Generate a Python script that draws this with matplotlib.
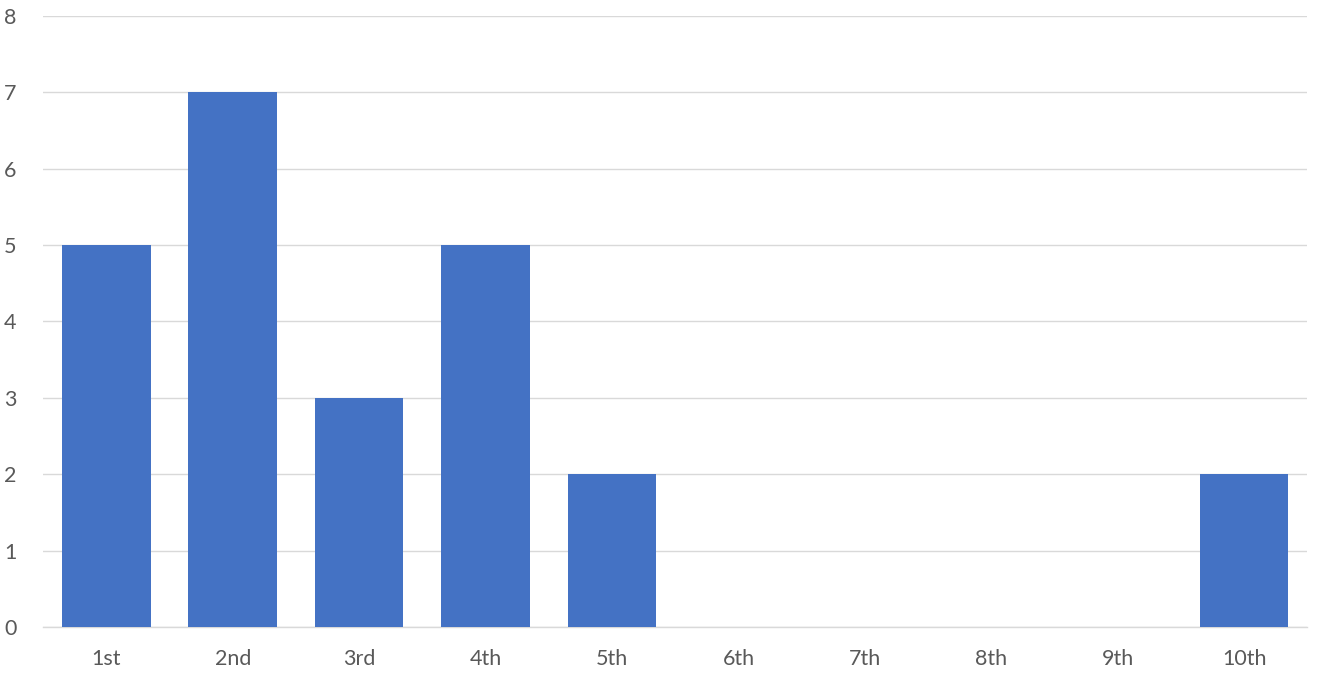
import matplotlib.pyplot as plt

places = ['1st', '2nd', '3rd', '4th', '5th', '6th', '7th', '8th', '9th', '10th']
counts = [5, 7, 3, 5, 2, 0, 0, 0, 0, 2]

plt.rcParams['font.family'] = ['Lato', 'DejaVu Sans']

fig = plt.figure(figsize=(13.24, 6.8), dpi=100)
ax = fig.add_axes([0.0325, 0.078, 0.955, 0.8985])

x = range(len(places))
ax.bar(x, counts, width=0.70, color='#4472C4', zorder=3)

ax.set_xlim(-0.5, len(places) - 0.5)
ax.set_ylim(0, 8)
ax.set_yticks(range(0, 9))
ax.set_xticks(list(x))
ax.set_xticklabels(places)

ax.grid(axis='y', color='#D9D9D9', linewidth=1, zorder=0)
for s in ['top', 'right', 'left']:
    ax.spines[s].set_visible(False)
ax.spines['bottom'].set_color('#D9D9D9')
ax.spines['bottom'].set_linewidth(1)
ax.tick_params(axis='both', length=0, labelsize=15.5, labelcolor='#595959')
ax.tick_params(axis='y', pad=19)
ax.tick_params(axis='x', pad=16)

fig.savefig('out.png', dpi=100)
